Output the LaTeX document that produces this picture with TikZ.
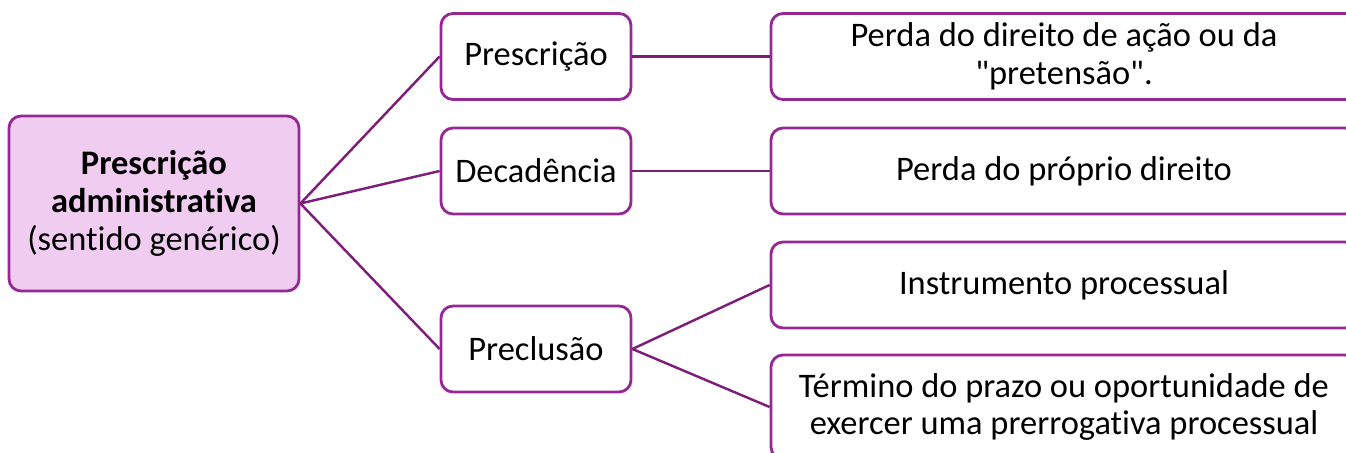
\documentclass[tikz,border=0pt]{standalone}
\usepackage{fontspec}
\setmainfont{Carlito}[Ligatures=NoCommon]
\definecolor{boxline}{RGB}{150,40,150}
\definecolor{linkline}{RGB}{125,30,120}
\definecolor{rootfill}{RGB}{240,204,240}
\begin{document}
\begin{tikzpicture}[
        box/.style={draw=boxline, line width=1.6pt, rounded corners=0.24cm, fill=white, align=center, inner sep=0pt, font=\fontsize{19.6}{21.5}\selectfont},
        rootbox/.style={box, fill=rootfill, minimum width=5.8cm, minimum height=3.5cm},
        midbox/.style={box, minimum width=3.8cm, minimum height=1.72cm},
        leafbox/.style={box, minimum width=11.72cm, minimum height=1.72cm},
        link/.style={draw=linkline, line width=1.4pt}
    ]
        \clip (0,0) rectangle (26.92,9.06);

        % Root
        \node[rootbox] (root) at (3.08,4.99) {\textbf{Prescrição}\\\textbf{administrativa}\\(sentido genérico)};

        % Middle column
        \node[midbox] (presc) at (10.72,7.93) {Prescrição};
        \node[midbox] (decad) at (10.72,5.64) {Decadência};
        \node[midbox] (precl) at (10.72,2.08) {Preclusão};

        % Right column
        \node[leafbox] (acao) at (21.28,7.93) {Perda do direito de ação ou da\\\textquotedbl pretensão\textquotedbl.};
        \node[leafbox] (direito) at (21.28,5.64) {Perda do próprio direito};
        \node[leafbox] (instr) at (21.28,3.36) {Instrumento processual};
        \node[leafbox, minimum height=2.08cm] (termino) at (21.28,0.92) {Término do prazo ou oportunidade de\\exercer uma prerrogativa processual};

        % Links
        \draw[link] (root.east) -- (presc.west);
        \draw[link] (root.east) -- (decad.west);
        \draw[link] (root.east) -- (precl.west);
        \draw[link] (presc.east) -- (acao.west);
        \draw[link] (decad.east) -- (direito.west);
        \draw[link] (precl.east) -- (instr.west);
        \draw[link] (precl.east) -- (termino.west);
    \end{tikzpicture}
\end{document}
